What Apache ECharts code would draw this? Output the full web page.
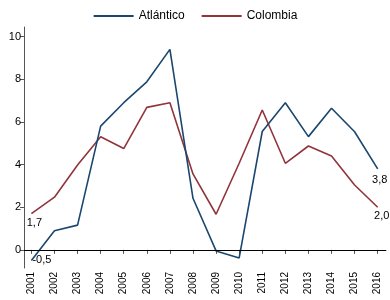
<!DOCTYPE html>
<html>
<head>
<meta charset="utf-8">
<script src="https://cdn.jsdelivr.net/npm/echarts@6/dist/echarts.min.js"></script>
<style>
  html, body { margin: 0; padding: 0; background: #fff; }
  #chart { width: 390px; height: 300px; }
</style>
</head>
<body>
<div id="chart"></div>
<script>
  // años y series (variación %)
  var years = [2001, 2002, 2003, 2004, 2005, 2006, 2007, 2008, 2009, 2010, 2011, 2012, 2013, 2014, 2015, 2016];
  var atlantico = [-0.5, 0.9, 1.16, 5.8, 6.9, 7.88, 9.4, 2.42, -0.05, -0.38, 5.55, 6.9, 5.31, 6.64, 5.54, 3.8];
  var colombia = [1.7, 2.47, 3.98, 5.3, 4.75, 6.68, 6.9, 3.56, 1.67, 4.06, 6.56, 4.06, 4.87, 4.4, 3.04, 2.0];
  var yTicks = [0, 2, 4, 6, 8, 10];
  // puntos con etiqueta (índices)
  var labelled = [0, 15];

  var font = 'Liberation Sans, Arial, sans-serif';

  function pairs(vals) {
    return vals.map(function (v, i) { return [years[i], v]; });
  }

  function withLabels(vals, offsets) {
    return pairs(vals).map(function (p, i) {
      var k = labelled.indexOf(i);
      if (k < 0) return p;
      return {
        value: p,
        label: {
          show: true, position: offsets[k].pos, offset: offsets[k].off,
          formatter: function (d) { return d.value[1].toFixed(1).replace('.', ','); }
        }
      };
    });
  }

  var chart = echarts.init(document.getElementById('chart'));
  chart.setOption({
    animation: false,
    textStyle: { fontFamily: font },
    legend: {
      top: 5, left: 'center',
      itemWidth: 40, itemHeight: 12, itemGap: 16,
      itemStyle: { opacity: 0 },
      textStyle: { fontSize: 12, color: '#000', fontFamily: font },
      data: ['Atlántico', 'Colombia']
    },
    grid: { left: 24, right: 4, top: 27, bottom: 32 },
    xAxis: {
      type: 'value', min: 2000.68, max: 2016.36,
      axisLine: { lineStyle: { color: '#555', width: 1 } },
      axisTick: { show: true, length: 4, customValues: years, lineStyle: { color: '#555' } },
      axisLabel: {
        customValues: years, rotate: 90, fontSize: 10, color: '#000', margin: 4,
        formatter: function (v) { return String(v); }
      },
      splitLine: { show: false }
    },
    yAxis: {
      type: 'value', min: -0.85, max: 10.45,
      axisLine: { show: true, lineStyle: { color: '#555', width: 1 } },
      axisTick: { show: true, length: 4, customValues: yTicks, lineStyle: { color: '#555' } },
      axisLabel: { customValues: yTicks, fontSize: 11, color: '#000', margin: 3 },
      splitLine: { show: false }
    },
    series: [
      {
        name: 'Atlántico', type: 'line', symbol: 'circle', symbolSize: 0, showSymbol: true,
        lineStyle: { color: '#1a476f', width: 1.6 },
        itemStyle: { color: '#1a476f' },
        label: { color: '#000', fontSize: 11, fontFamily: font },
        data: withLabels(atlantico, [{ pos: 'right', off: [-4, -1] }, { pos: 'bottom', off: [2, 1] }]),
        markLine: {
          silent: true, symbol: 'none', label: { show: false },
          lineStyle: { color: '#000', width: 1.2, type: 'solid' },
          data: [{ yAxis: 0 }]
        },
        z: 3
      },
      {
        name: 'Colombia', type: 'line', symbol: 'circle', symbolSize: 0, showSymbol: true,
        lineStyle: { color: '#90353b', width: 1.6 },
        itemStyle: { color: '#90353b' },
        label: { color: '#000', fontSize: 11, fontFamily: font },
        data: withLabels(colombia, [{ pos: 'bottom', off: [3, -1] }, { pos: 'bottom', off: [4, -2] }]),
        z: 2
      }
    ]
  });
</script>
</body>
</html>
